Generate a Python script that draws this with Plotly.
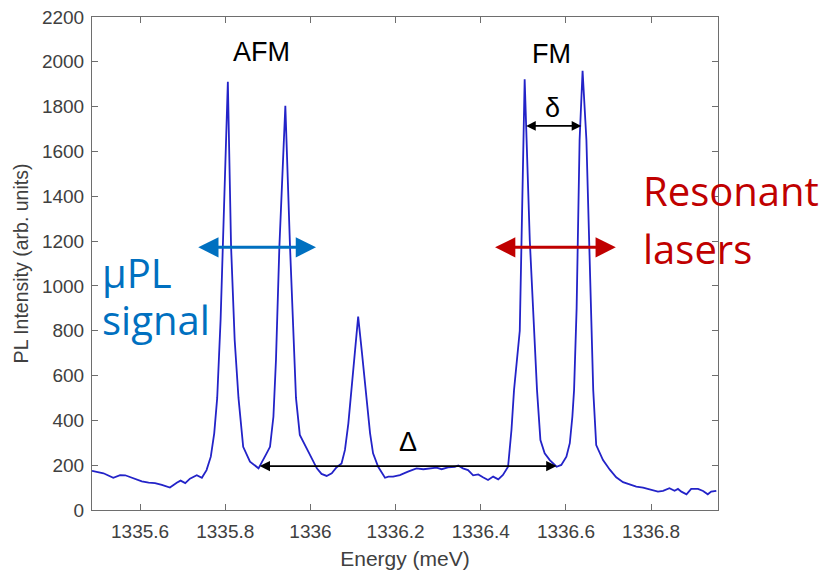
import plotly.graph_objects as go

# Energy (meV) and PL intensity (arb. units)
energy = [
    1335.487, 1335.514, 1335.537, 1335.553, 1335.565, 1335.584, 1335.604, 1335.620,
    1335.635, 1335.651, 1335.670, 1335.686, 1335.695, 1335.706, 1335.717, 1335.733,
    1335.745, 1335.756, 1335.766, 1335.774, 1335.781, 1335.789, 1335.797, 1335.806,
    1335.8135, 1335.822, 1335.831, 1335.842, 1335.858, 1335.878, 1335.897, 1335.905,
    1335.913, 1335.919, 1335.927, 1335.941, 1335.952, 1335.959, 1335.966, 1335.975,
    1335.987, 1335.999, 1336.015, 1336.026, 1336.038, 1336.050, 1336.061, 1336.073,
    1336.081, 1336.089, 1336.096, 1336.112, 1336.121, 1336.130, 1336.140, 1336.147,
    1336.159, 1336.175, 1336.183, 1336.194, 1336.210, 1336.229, 1336.249, 1336.265,
    1336.280, 1336.296, 1336.308, 1336.323, 1336.339, 1336.347, 1336.358, 1336.370,
    1336.382, 1336.394, 1336.405, 1336.417, 1336.429, 1336.441, 1336.452, 1336.464,
    1336.472, 1336.478, 1336.4915, 1336.503, 1336.515, 1336.527, 1336.532, 1336.540,
    1336.550, 1336.562, 1336.578, 1336.589, 1336.601, 1336.609, 1336.615, 1336.619,
    1336.625, 1336.632, 1336.639, 1336.648, 1336.660, 1336.664, 1336.671, 1336.687,
    1336.703, 1336.718, 1336.734, 1336.750, 1336.765, 1336.781, 1336.793, 1336.804,
    1336.816, 1336.828, 1336.843, 1336.855, 1336.863, 1336.871, 1336.883, 1336.894,
    1336.910, 1336.922, 1336.933, 1336.941, 1336.953,
]
intensity = [
    175, 164, 144, 156, 155, 143, 128, 122,
    120, 112, 100, 122, 131, 120, 140, 155,
    144, 178, 238, 342, 500, 850, 1350, 1911,
    1180, 760, 500, 282, 216, 186, 253, 282,
    416, 669, 1175, 1804, 1175, 800, 500, 335,
    290, 245, 186, 161, 152, 164, 190, 208,
    268, 387, 535, 863, 700, 535, 342, 253,
    193, 144, 149, 149, 156, 171, 186, 182,
    186, 189, 182, 190, 193, 199, 186, 178,
    155, 159, 146, 134, 149, 137, 156, 193,
    357, 535, 800, 1922, 1205, 759, 535, 312,
    253, 223, 193, 201, 238, 298, 416, 535,
    900, 1651, 1960, 1651, 759, 535, 290, 223,
    180, 146, 124, 115, 104, 100, 94, 89,
    82, 85, 97, 86, 94, 82, 70, 94,
    94, 85, 70, 82, 85,
]

x_ticks = [1335.6, 1335.8, 1336.0, 1336.2, 1336.4, 1336.6, 1336.8]
x_tick_labels = ["1335.6", "1335.8", "1336", "1336.2", "1336.4", "1336.6", "1336.8"]
y_ticks = list(range(0, 2201, 200))

# Annotation positions (energy, intensity)
afm_label = (1335.886, 2044)
fm_label = (1336.567, 2035)
small_delta_label = (1336.569, 1792)
small_delta_arrow = (1336.503, 1336.636, 1714)
big_delta_label = (1336.228, 305)
big_delta_arrow = (1335.877, 1336.578, 196)
upl_arrow = (1335.733, 1336.013, 1172)
laser_arrow = (1336.430, 1336.717, 1172)

fig = go.Figure()
fig.add_trace(go.Scatter(
    x=energy, y=intensity, mode="lines",
    line=dict(color="#2323c8", width=1.8),
    showlegend=False, hoverinfo="skip",
))

axis_common = dict(
    showgrid=False, zeroline=False, showline=True, linecolor="#6e6e6e", linewidth=1,
    mirror="ticks", ticks="inside", ticklen=6, tickcolor="#6e6e6e", automargin=False,
    tickfont=dict(family="Liberation Sans, Arial", size=19, color="#404040"),
)

fig.update_xaxes(
    range=[1335.487, 1336.957], tickvals=x_ticks, ticktext=x_tick_labels,
    ticklabelstandoff=4,
    title=dict(text="Energy (meV)", font=dict(family="Liberation Sans, Arial", size=21, color="#404040"), standoff=10),
    **axis_common,
)
fig.update_yaxes(
    range=[0, 2200], tickvals=y_ticks,
    ticklabelstandoff=3,
    title=dict(text="PL Intensity (arb. units)", font=dict(family="Liberation Sans, Arial", size=19.5, color="#404040"), standoff=8),
    **axis_common,
)

annots = []
lab_font = dict(family="Liberation Sans, Arial", size=27, color="black")
annots.append(dict(x=afm_label[0], y=afm_label[1], text="AFM", showarrow=False, font=lab_font))
annots.append(dict(x=fm_label[0], y=fm_label[1], text="FM", showarrow=False, font=lab_font))
annots.append(dict(x=small_delta_label[0], y=small_delta_label[1], text="δ", showarrow=False, font=lab_font))
annots.append(dict(x=big_delta_label[0], y=big_delta_label[1], text="Δ", showarrow=False, font=lab_font))


def dbl_arrow(x0, x1, y, color, width, size):
    return dict(
        x=x1, y=y, ax=x0, ay=y, xref="x", yref="y", axref="x", ayref="y",
        text="", showarrow=True, arrowhead=2, startarrowhead=2, arrowside="end+start",
        arrowcolor=color, arrowwidth=width, arrowsize=size, startarrowsize=size,
        standoff=0, startstandoff=0,
    )


annots.append(dbl_arrow(small_delta_arrow[0], small_delta_arrow[1], small_delta_arrow[2], "black", 1.6, 1.2))
annots.append(dbl_arrow(big_delta_arrow[0], big_delta_arrow[1], big_delta_arrow[2], "black", 1.6, 1.3))
annots.append(dbl_arrow(upl_arrow[0], upl_arrow[1], upl_arrow[2], "#0070C0", 3, 1.35))
annots.append(dbl_arrow(laser_arrow[0], laser_arrow[1], laser_arrow[2], "#C00000", 3, 1.35))

big_font_blue = dict(family="Open Sans", size=40, color="#0070C0")
big_font_red = dict(family="Open Sans", size=40, color="#C00000")
annots.append(dict(x=(100 - 92) / 626, y=(510 - 272) / 493, xref="paper", yref="paper", text="μPL",
                   showarrow=False, xanchor="left", yanchor="middle", font=big_font_blue))
annots.append(dict(x=(100 - 92) / 626, y=(510 - 319) / 493, xref="paper", yref="paper", text="signal",
                   showarrow=False, xanchor="left", yanchor="middle", font=big_font_blue))
annots.append(dict(x=(641 - 92) / 626, y=(510 - 190) / 493, xref="paper", yref="paper", text="Resonant",
                   showarrow=False, xanchor="left", yanchor="middle", font=big_font_red))
annots.append(dict(x=(641 - 92) / 626, y=(510 - 248) / 493, xref="paper", yref="paper", text="lasers",
                   showarrow=False, xanchor="left", yanchor="middle", font=big_font_red))

fig.update_layout(
    width=831, height=571,
    margin=dict(l=92, r=113, t=17, b=61),
    paper_bgcolor="white", plot_bgcolor="white",
    annotations=annots,
)

fig.write_html("out.html")
